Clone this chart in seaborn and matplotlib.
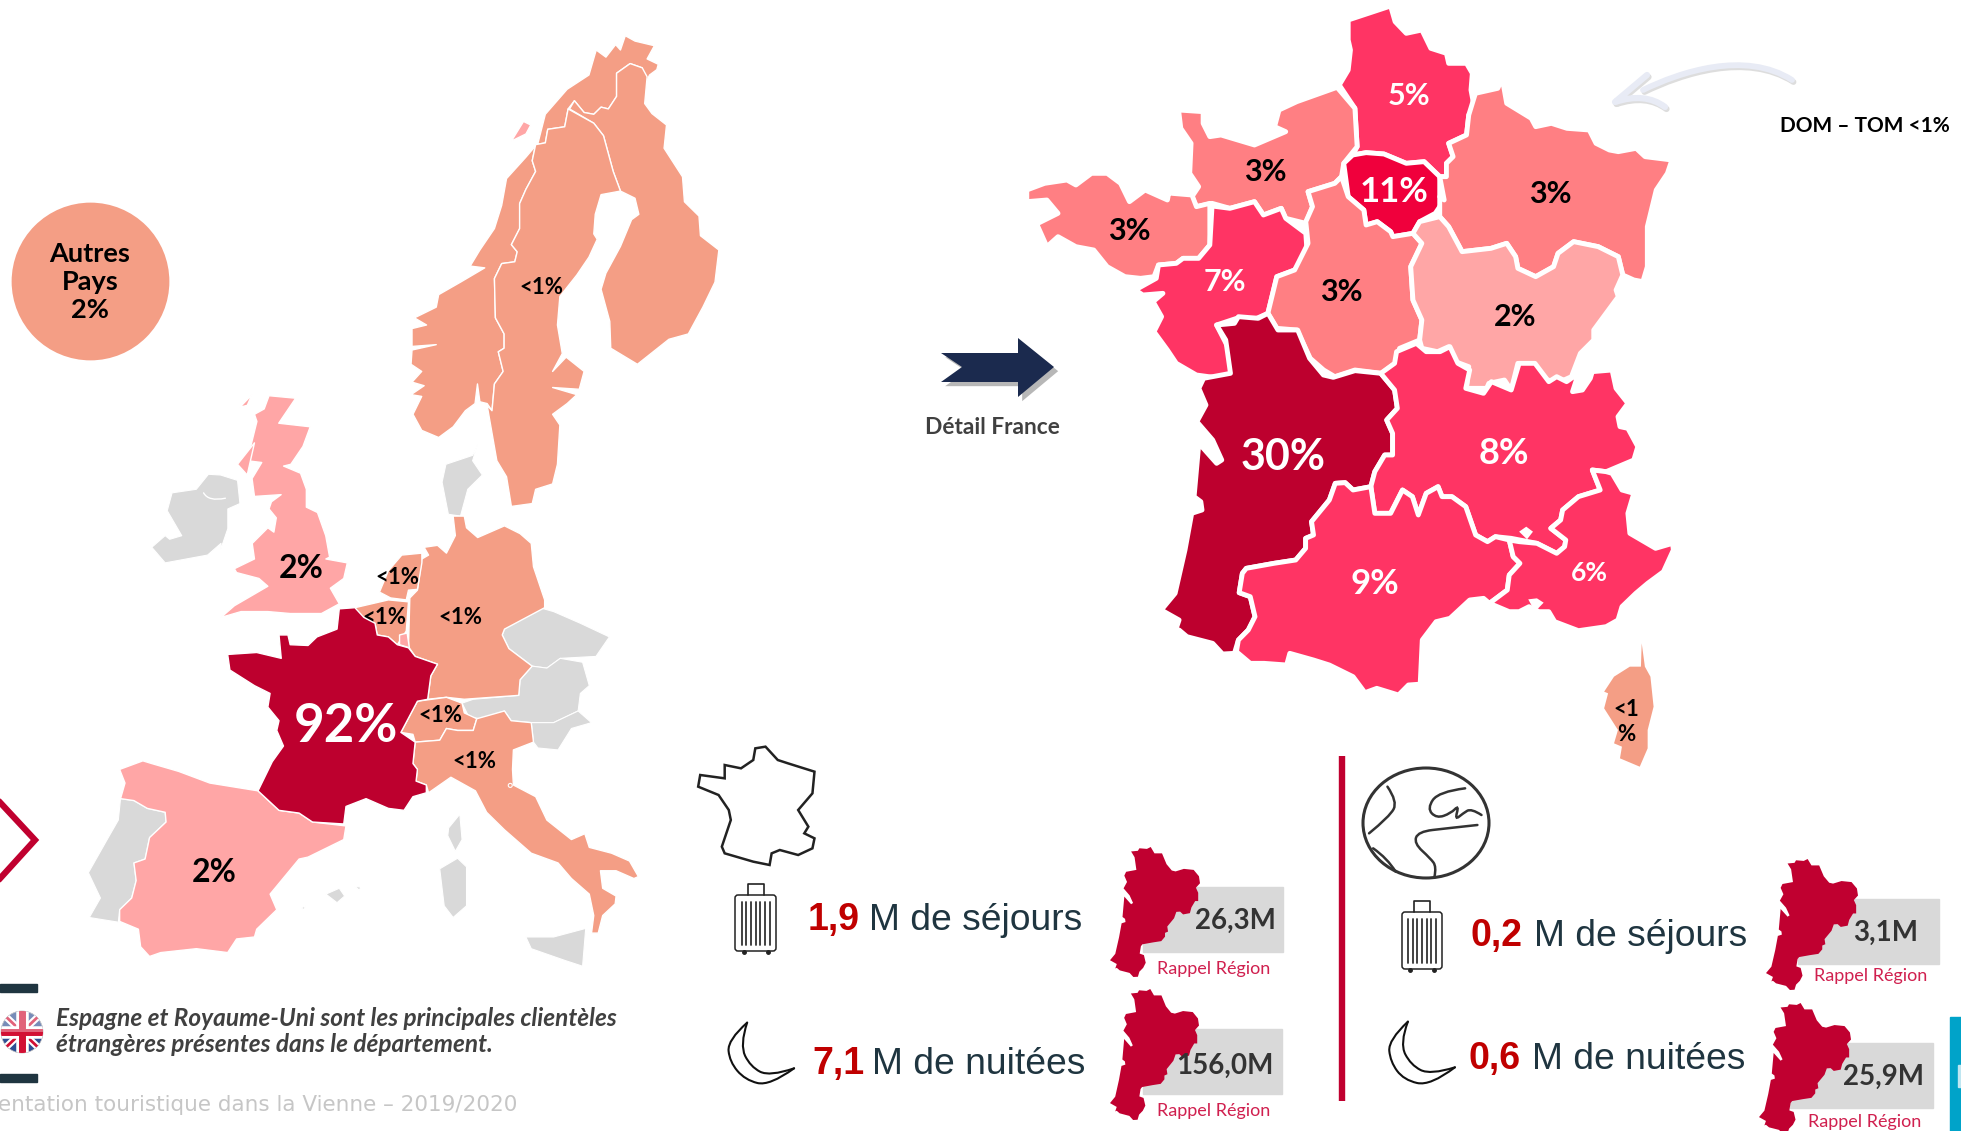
import numpy as np
import pandas as pd
import matplotlib
matplotlib.use("Agg")
import matplotlib.pyplot as plt
import matplotlib.patheffects as pe
from matplotlib.patches import Polygon, Ellipse, Rectangle, FancyBboxPatch, PathPatch, Circle, Wedge
from matplotlib.path import Path
import seaborn as sns

sns.set_theme(style="white")
plt.rcParams['font.family'] = ['Lato', 'DejaVu Sans']

# Values
europe_names = ["Scandinavie", "Royaume-Uni", "Pays-Bas", "Belgique", "Allemagne", "France", "Suisse", "Italie", "Espagne"]
europe_shares = ["<1%", "2%", "<1%", "<1%", "<1%", "92%", "<1%", "<1%", "2%"]
other_share = "2%"

france_names = ["Hauts-de-France", "Normandie", "Ile-de-France", "Grand Est", "Bretagne", "Pays de la Loire", "Centre",
                "Bourgogne", "Nouvelle-Aquitaine", "Auvergne", "Occitanie", "PACA", "Corse"]
france_shares = ["5%", "3%", "11%", "3%", "3%", "7%", "3%", "2%", "30%", "8%", "9%", "6%", "<1\n%"]

stat_numbers = ["1,9", "7,1", "0,2", "0,6"]
stat_units = ["M de séjours", "M de nuitées", "M de séjours", "M de nuitées"]
region_recall = ["26,3M", "156,0M", "3,1M", "25,9M"]

RED = "#BD002E"
HOT = "#FF3464"
SALMON = "#FF7F83"
PINK = "#FFA6A6"
ORANGE = "#F49E85"
GREY = "#D9D9D9"
ARROW = "#E8EBF5"


# outlines were traced on crops of the map, so each one comes with its crop
def crop(pts, x0, y0, sx, sy):
    return [(x0 + x / sx, y0 + y / sy) for x, y in pts]

def nord(pts):
    return crop(pts, 0, 0, 2.063, 2.8)

def eur(pts):
    return crop(pts, 0, 520, 2.24, 2.566)

def fr_n(pts):
    return crop(pts, 1000, 0, 2.24, 3)

def fr_s(pts):
    return crop(pts, 1100, 300, 2.529, 3)

def low_l(pts):
    return crop(pts, 690, 730, 2.45, 3)

def low_r(pts):
    return crop(pts, 1320, 730, 2.446, 3)


norway = nord([(1290,100),(1310,115),(1350,128),(1335,165),(1358,180),(1355,195),(1340,210),(1330,240),(1325,190),(1300,178),(1272,205),(1272,270),(1255,305),(1240,300),(1225,320),(1205,315),(1185,282),(1172,305),(1165,355),(1130,362),(1125,400),(1105,405),(1098,450),(1105,480),(1085,530),(1072,570),(1072,640),(1055,685),(1067,705),(1062,733),(1035,738),(1020,780),(1022,890),(1040,935),(1040,975),(1028,985),(1038,1040),(1020,1075),(1015,1150),(1005,1130),(990,1125),(985,1075),(980,1130),(960,1150),(935,1195),(905,1225),(870,1205),(852,1160),(870,1110),(848,1105),(875,1080),(850,1070),(870,1040),(848,1020),(850,980),(900,965),(850,970),(850,920),(880,910),(855,890),(900,860),(905,825),(950,790),(1000,750),(970,745),(990,700),(1020,640),(1035,575),(1045,500),(1085,440),(1110,400),(1125,320),(1170,250),(1215,210),(1230,140),(1250,160),(1270,125),(1280,140)])
finland = nord([(1300,178),(1325,190),(1335,215),(1330,290),(1345,318),(1375,350),(1370,415),(1408,495),(1412,565),(1442,605),(1445,660),(1483,700),(1475,790),(1450,860),(1420,935),(1380,950),(1315,1020),(1260,975),(1258,900),(1240,810),(1250,765),(1280,690),(1303,615),(1318,600),(1310,555),(1280,535),(1265,480),(1245,380),(1225,345),(1175,305),(1185,282),(1205,315),(1225,320),(1240,300),(1255,305),(1272,270),(1272,205)])
sweden = nord([(1172,305),(1225,345),(1245,380),(1265,480),(1280,535),(1240,545),(1228,600),(1225,655),(1232,670),(1215,720),(1190,770),(1155,830),(1150,910),(1160,990),(1140,1040),(1168,1000),(1205,1040),(1195,1090),(1140,1085),(1190,1105),(1170,1130),(1140,1160),(1155,1190),(1150,1300),(1140,1355),(1105,1370),(1098,1410),(1055,1418),(1045,1335),(1025,1290),(1005,1135),(1015,1150),(1020,1075),(1038,1040),(1028,985),(1040,975),(1040,935),(1022,890),(1020,780),(1035,738),(1062,733),(1067,705),(1055,685),(1072,640),(1072,570),(1085,530),(1105,480),(1098,450),(1105,405),(1125,400),(1130,362),(1165,355)])
lofoten = nord([(1055,395),(1080,340),(1095,350),(1085,375)])
denmark = nord([(985,1245),(975,1275),(920,1300),(912,1350),(925,1440),(950,1445),(965,1370),(995,1330),(975,1290)])
ireland = nord([(430,1328),(455,1330),(490,1345),(495,1410),(470,1425),(470,1480),(455,1540)]) + eur([(495,60),(465,90),(370,110),(340,70),(370,40)]) + nord([(350,1510),(375,1500),(345,1430),(355,1380),(405,1370)])
uk = nord([(555,1108),(610,1115),(575,1185),(640,1195),(625,1250),(600,1300),(585,1305),(620,1325),(632,1370),(632,1420),(655,1435),(672,1500),(680,1560)]) + eur([(730,100),(778,110),(770,150),(740,175),(760,215),(720,240),(650,240),(600,235),(540,235),(495,250),(525,220),(600,170),(580,150),(530,135),(525,125),(570,100),(565,60),(600,20)]) + nord([(565,1490),(570,1450),(555,1425),(560,1405),(580,1385),(525,1390),(520,1340),(540,1295),(510,1290),(530,1180),(525,1160),(545,1145)])
hebrides = nord([(495,1140),(520,1105),(510,1135)])
hebrides2 = nord([(490,1300),(525,1240),(510,1330)])

germany = eur([(1015,-10),(1040,-10),(1045,20),(1070,45),(1130,15),(1165,35),(1190,60),(1195,120),(1220,205),(1220,225),(1130,280),(1125,295),(1140,330),(1192,375),(1165,410),(1162,450),(1040,460),(1000,455),(958,460),(965,400),(980,370),(930,350),(915,325),(918,200),(935,180),(945,100),(960,90),(950,70),(980,65),(1000,85),(1020,40)])
netherlands = eur([(900,90),(945,85),(945,110),(935,178),(915,180),(910,205),(875,200),(850,185),(870,130)])
belgium = eur([(795,225),(870,205),(915,210),(910,285),(890,320),(870,300),(845,295),(840,265),(815,250),(797,240)])
luxembourg = eur([(895,295),(912,290),(917,328),(895,320)])
france = eur([(760,228),(795,225),(815,250),(840,265),(845,295),(870,300),(890,320),(915,328),(930,350),(980,370),(965,400),(958,460),(935,465),(898,545),(930,570),(925,625),(935,640),(932,670),(955,680),(955,700),(925,710),(905,745),(870,740),(820,715),(775,735),(770,780),(700,775),(670,752),(625,745),(578,695),(610,620),(635,580),(620,540),(625,515),(600,480),(605,445),(570,425),(515,385),(510,345),(575,340),(630,355),(625,295),(645,295),(650,320),(690,322),(710,300),(755,280)])
switzerland = eur([(935,465),(1000,455),(1035,470),(1040,495),(1068,510),(1060,540),(1025,540),(1000,535),(985,565),(930,570),(925,550),(898,545)])
italy = eur([(930,570),(985,565),(1000,535),(1025,540),(1060,540),(1068,510),(1130,490),(1145,515),(1190,520),(1195,570),(1150,590),(1148,640),(1150,680),(1200,710),(1225,770),(1280,820),(1310,805),(1320,840),(1370,855),(1410,875),(1430,915),(1420,920),(1380,900),(1345,900),(1350,945),(1380,965),(1378,985),(1350,1015),(1340,1060),(1325,1060),(1330,1015),(1320,960),(1280,920),(1250,880),(1190,855),(1130,795),(1090,750),(1065,695),(1010,660),(960,700),(955,680),(932,670),(935,640),(925,625)])
czech = eur([(1200,222),(1240,235),(1300,265),(1365,300),(1335,350),(1255,355),(1225,380),(1192,375),(1140,330),(1125,295),(1130,280)])
austria = eur([(1225,380),(1255,355),(1305,365),(1320,425),(1300,445),(1295,490),(1240,520),(1190,520),(1145,515),(1130,490),(1075,510),(1050,505),(1035,470),(1060,460),(1162,450),(1165,410),(1192,375)])
slovenia = eur([(1190,520),(1240,520),(1295,490),(1325,520),(1280,535),(1250,590),(1205,585),(1195,570)])
portugal = eur([(270,715),(300,720),(330,740),(370,750),(372,775),(335,815),(325,870),(300,880),(305,925),(295,970),(268,1000),(265,1032),(200,1020),(225,970),(198,905),(240,820),(265,770)])
spain = eur([(320,618),(340,625),(400,645),(470,675),(578,695),(625,745),(670,752),(700,775),(775,785),(770,820),(690,865),(670,870),(605,960),(620,1000),(575,1050),(570,1070),(530,1075),(510,1110),(440,1100),(360,1110),(335,1120),(315,1095),(310,1050),(268,1030),(268,1000),(295,970),(305,925),(300,880),(325,870),(335,815),(372,775),(370,750),(330,740),(300,720),(270,715),(280,675),(268,640)])
corse_grey = eur([(1030,755),(1035,820),(1020,850),(1003,810),(1005,790)])
sardinia = eur([(1025,868),(1045,890),(1045,990),(1015,1020),(995,990),(985,895)])
sicily = eur([(1178,1070),(1240,1070),(1312,1048),(1305,1145),(1265,1130),(1190,1100)])
majorca = eur([(730,960),(760,945),(772,965),(755,982)])
minorca = eur([(795,940),(808,942),(805,950)])
ibiza = eur([(675,995),(685,990),(680,1000)])

hauts = fr_n([(780,60),(875,18),(885,65),(910,100),(945,90),(965,145),(1000,160),(1005,190),(1045,190),(1058,220),(1055,270),(1062,320),(1050,345),(1045,405),(1005,430),(1015,470),(1000,490),(1000,530),(985,530),(950,485),(910,490),(860,462),(820,458),(790,465),(800,440),(795,325),(760,255),(780,210),(785,150),(780,120)])
idf = fr_n([(790,465),(820,458),(860,462),(910,490),(950,485),(985,530),(985,590),(995,600),(975,640),(940,665),(925,700),(880,710),(875,695),(845,665),(820,675),(815,630),(780,590),(770,490)])
grand_est = fr_n([(1125,235),(1135,310),(1190,355),(1200,380),(1235,370),(1270,385),(1320,390),(1335,430),(1365,450),(1385,455),(1425,445),(1445,470),(1505,480),(1495,520),(1470,570),(1450,680),(1450,800),(1440,845),(1420,840),(1395,825),(1385,770),(1340,740),(1285,725),(1250,760),(1240,800),(1200,830),(1160,805),(1155,770),(1135,730),(1100,745),(1035,755),(1005,680),(985,650),(985,590),(995,600),(985,530),(1000,530),(1000,490),(1015,470),(1005,430),(1045,405),(1050,345),(1065,280),(1115,265)])
bourgogne = fr_n([(985,650),(1005,680),(1035,755),(1100,745),(1135,730),(1155,770),(1160,805),(1200,830),(1240,800),(1250,760),(1285,725),(1340,740),(1385,770),(1395,825),(1380,870),(1385,890),(1330,990),(1330,1020),(1300,1060),(1280,1130),(1255,1145),(1225,1140),(1195,1095),(1160,1090),(1145,1170),(1130,1140),(1095,1150),(1090,1165),(1045,1165),(1050,1100),(1020,1085),(1005,1040),(980,1055),(945,1045),(940,1020),(945,960),(925,900),(920,800),(945,730),(925,700),(940,665)])
centre = fr_n([(765,530),(780,590),(815,630),(820,675),(845,665),(875,695),(880,710),(925,700),(945,730),(920,800),(925,900),(945,960),(940,1020),(895,1045),(885,1090),(855,1120),(795,1110),(750,1130),(725,1110),(695,1075),(665,990),(620,985),(600,940),(620,830),(660,810),(690,730),(685,665),(700,620),(690,575),(750,550)])
normandie = fr_n([(755,262),(795,325),(800,440),(770,490),(765,530),(750,550),(690,575),(700,620),(685,670),(640,655),(630,625),(590,645),(570,605),(515,625),(475,610),(440,620),(430,590),(445,560),(425,520),(428,430),(405,385),(400,330),(455,335),(455,370),(470,410),(495,405),(570,435),(640,395),(615,380),(625,330),(665,305)])
bretagne = fr_n([(60,570),(100,550),(150,540),(170,555),(205,520),(240,520),(270,550),(290,605),(325,570),(375,600),(380,565),(385,580),(430,585),(440,620),(470,610),(470,735),(445,775),(410,775),(395,790),(355,795),(345,830),(315,835),(280,830),(240,800),(210,750),(170,740),(130,710),(105,740),(85,680),(70,680),(130,640),(105,600),(60,605)])
loire = fr_n([(475,618),(515,625),(570,605),(590,645),(630,625),(640,655),(685,700),(688,760),(660,810),(620,830),(600,940),(575,955),(530,955),(485,975),(510,1040),(520,1120),(495,1135),(440,1125),(395,1090),(375,1050),(345,995),(362,950),(343,905),(365,880),(320,885),(303,870),(350,835),(355,795),(395,790),(410,775),(445,775),(470,735)])
aquitaine = fr_s([(295,75),(340,70),(350,50),(400,55),(425,40),(450,90),(500,90),(530,175),(565,225),(590,232),(645,212),(710,220),(745,270),(752,325),(725,360),(740,400),(740,465),(720,465),(695,515),(685,560),(640,570),(620,548),(595,550),(580,600),(535,665),(540,705),(520,715),(520,745),(495,780),(440,790),(370,805),(360,820),(352,878),(380,890),(392,950),(375,990),(350,1020),(340,1060),(310,1062),(285,1030),(220,1010),(200,990),(190,995),(200,960),(155,930),(190,880),(215,750),(232,640),(258,630),(255,605),(238,590),(250,430),(295,490),(308,480),(285,420),(245,365),(268,315),(250,265),(262,235),(330,220),(318,120)])
occitanie = fr_s([(370,805),(440,790),(495,780),(520,745),(520,715),(540,705),(535,665),(580,600),(595,550),(620,548),(640,570),(685,560),(695,640),(735,640),(765,570),(790,590),(805,645),(825,580),(855,560),(865,590),(890,590),(925,620),(950,705),(980,725),(1000,710),(1035,720),(1045,770),(1062,790),(1035,825),(1030,870),(985,910),(970,895),(935,900),(885,955),(850,965),(815,1020),(810,1145),(815,1152),(780,1155),(755,1185),(700,1165),(670,1178),(640,1130),(580,1095),(540,1080),(480,1060),(472,1095),(415,1090),(380,1090),(345,1055),(350,1020),(375,990),(392,950),(380,890),(352,878),(360,820)])
auvergne = fr_s([(800,130),(825,155),(860,155),(885,140),(905,190),(935,210),(925,265),(970,280),(990,245),(1040,270),(1060,190),(1100,190),(1135,245),(1155,230),(1180,245),(1210,220),(1195,275),(1220,270),(1240,235),(1245,215),(1295,210),(1305,265),(1335,310),(1310,350),(1315,380),(1335,385),(1360,440),(1350,480),(1280,515),(1245,510),(1265,570),(1210,590),(1170,630),(1165,660),(1140,685),(1178,720),(1175,740),(1155,760),(1105,730),(1040,715),(1000,710),(980,725),(950,705),(925,620),(890,590),(865,590),(855,560),(825,580),(805,645),(790,590),(765,570),(735,640),(695,640),(685,560),(695,515),(720,465),(740,465),(740,400),(725,360),(752,325),(745,270),(710,220),(745,190),(750,155)])
paca = fr_s([(1245,510),(1280,515),(1295,520),(1320,570),(1350,580),(1335,640),(1340,700),(1405,745),(1448,730),(1450,750),(1425,815),(1385,850),(1355,880),(1320,920),(1310,960),(1280,980),(1210,992),(1150,965),(1135,935),(1110,935),(1085,920),(1060,935),(1035,935),(985,910),(1030,870),(1035,825),(1062,790),(1045,770),(1035,720),(1060,725),(1105,730),(1155,760),(1175,740),(1178,720),(1140,685),(1165,660),(1170,630),(1210,590),(1265,570)])
corse = fr_s([(1370,1030),(1378,1100),(1392,1130),(1400,1220),(1385,1290),(1385,1345),(1365,1400),(1315,1375),(1320,1340),(1300,1330),(1310,1290),(1275,1225),(1285,1180),(1275,1175),(1300,1130),(1340,1100),(1368,1100)])

icon_france = low_l([(160,55),(185,50),(215,90),(240,100),(305,125),(300,190),(265,240),(290,290),(280,310),(305,325),(300,355),(265,375),(220,360),(200,370),(195,405),(155,395),(85,370),(78,350),(100,270),(95,240),(70,195),(20,170),(25,135),(85,145),(85,105),(125,115),(155,90)])

fig = plt.figure(figsize=(19.61, 11.31), dpi=100)
ax = fig.add_axes([0, 0, 1, 1])
ax.set_xlim(0, 1961)
ax.set_ylim(1131, 0)
ax.axis('off')


def fill(pts, color, lw=1.0, z=2):
    ax.add_patch(Polygon(pts, closed=True, facecolor=color, edgecolor='white', linewidth=lw, joinstyle='round', zorder=z))


def smooth(pts):
    # quadratic curve through the midpoints, the icons are hand drawn
    verts = [pts[0]]
    codes = [Path.MOVETO]
    for a, b in zip(pts[1:-1], pts[2:]):
        verts += [a, ((a[0] + b[0]) / 2, (a[1] + b[1]) / 2)]
        codes += [Path.CURVE3, Path.CURVE3]
    verts[-1] = pts[-1]
    return Path(verts, codes)


def stroke(pts, color='#222222', lw=1.5, z=4):
    ax.add_patch(PathPatch(smooth(pts), facecolor='none', edgecolor=color, linewidth=lw, capstyle='round', zorder=z))


# Europe map
for shape in [denmark, ireland, czech, austria, slovenia, portugal, corse_grey, sardinia, sicily, majorca, minorca, ibiza]:
    fill(shape, GREY, lw=0.8)
for shape in [norway, finland, sweden, germany, netherlands, belgium, switzerland, italy]:
    fill(shape, ORANGE, lw=1.0)
for shape in [uk, spain, luxembourg, lofoten, hebrides, hebrides2]:
    fill(shape, PINK, lw=1.0)
fill(france, RED, lw=1.0)
stroke(nord([(420,1380),(430,1405),(465,1395)]), color='white', lw=1, z=3)
ax.add_patch(Circle(eur([(1143, 681)])[0], 2, facecolor='none', edgecolor='white', lw=0.8, zorder=3))

eu_xy = [(541, 288), (301, 568), (397, 578), (384, 618), (460, 617), (346, 726), (440, 716), (474, 761), (214, 873)]
for name, share, (x, y) in zip(europe_names, europe_shares, eu_xy):
    if name == "France":
        ax.text(x, y, share, color='white', fontsize=38, fontweight='bold', ha='center', va='center', zorder=6)
    elif share == "2%":
        ax.text(x, y, share, color='black', fontsize=23, fontweight='bold', ha='center', va='center', zorder=6)
    else:
        ax.text(x, y, share, color='black', fontsize=16, fontweight='bold', ha='center', va='center', zorder=6)

# Autres pays bubble
bubble = pd.DataFrame({'x': [90], 'y': [281], 'label': ["Autres\nPays\n" + other_share]})
sns.scatterplot(data=bubble, x='x', y='y', s=12900, color=ORANGE, linewidth=0, legend=False, ax=ax, zorder=2)
ax.set_xlim(0, 1961)
ax.set_ylim(1131, 0)
ax.axis('off')
ax.text(90, 282, bubble['label'][0], color='black', fontsize=19.5, fontweight='bold', ha='center', va='center',
        linespacing=1.22, zorder=5)

# Left chevron and note
ax.plot([-5, 35, -5], [797, 840, 884], color='#C0002F', lw=4.5, solid_joinstyle='miter', zorder=3)
ax.add_patch(Rectangle((0, 984), 37, 8, color='#1F3540', zorder=3))
ax.add_patch(Rectangle((0, 1074), 37, 8, color='#1F3540', zorder=3))

flag = Circle((22, 1032), 21, transform=ax.transData)
ax.add_patch(Circle((22, 1032), 21, facecolor='#2F4F93', edgecolor='#BBBBBB', lw=0.5, zorder=3))
for xs, ys, c, w in [([0, 44], [1011, 1053], 'white', 5), ([0, 44], [1053, 1011], 'white', 5),
                     ([0, 44], [1011, 1053], '#D21034', 2), ([0, 44], [1053, 1011], '#D21034', 2),
                     ([22, 22], [1010, 1054], 'white', 9), ([0, 44], [1032, 1032], 'white', 9),
                     ([22, 22], [1010, 1054], '#D21034', 5), ([0, 44], [1032, 1032], '#D21034', 5)]:
    line, = ax.plot(xs, ys, color=c, lw=w, zorder=4, solid_capstyle='butt')
    line.set_clip_path(flag)
ax.add_patch(Wedge((22, 1032), 21, 180, 360, facecolor='white', edgecolor='none', alpha=0.35, zorder=4))

ax.text(56, 1019, "Espagne et Royaume-Uni sont les principales clientèles", color='#404040', fontsize=17.6,
        fontweight='bold', style='italic', va='center', zorder=5)
ax.text(56, 1045, "étrangères présentes dans le département.", color='#404040', fontsize=17.6,
        fontweight='bold', style='italic', va='center', zorder=5)
ax.text(-2, 1105, "entation touristique dans la Vienne – 2019/2020", color='#C6C6C6', fontsize=15.5,
        family='DejaVu Sans', va='center', zorder=5)

# Detail arrow
ax.add_patch(Polygon([(941, 353), (1018, 353), (1018, 338), (1054, 367), (1018, 397), (1018, 382), (941, 382), (962, 367)],
                     facecolor='#1B2A4E', edgecolor='none', zorder=3,
                     path_effects=[pe.SimplePatchShadow(offset=(3, -3), shadow_rgbFace='#888888', alpha=0.6), pe.Normal()]))
ax.text(992, 428, "Détail France", color='#404040', fontsize=16.4, fontweight='bold', ha='center', va='center', zorder=5)

# France regions
fr_shapes = [hauts, normandie, idf, grand_est, bretagne, loire, centre, bourgogne, aquitaine, auvergne, occitanie, paca, corse]
fr_colors = [HOT, SALMON, "#F0003C", SALMON, SALMON, HOT, SALMON, PINK, RED, HOT, HOT, HOT, ORANGE]
fr_xy = [(1409, 96), (1265, 172), (1394, 192), (1550, 194), (1129, 231), (1225, 282), (1341, 292), (1515, 317), (1283, 457),
         (1504, 453), (1375, 584), (1589, 573), (1626, 722)]
fr_white = ["5%", "11%", "7%", "30%", "8%", "9%", "6%"]
fr_size = {"30%": 31, "11%": 25, "9%": 25, "8%": 26, "6%": 19, "<1\n%": 16}
for shape, color in zip(fr_shapes, fr_colors):
    fill(shape, color, lw=0 if shape is corse else 3.5)
for blob in [[(1060, 695), (1078, 680), (1095, 695), (1080, 718)], [(1083, 898), (1105, 895), (1122, 908), (1100, 935)]]:
    fill(fr_s(blob), 'white', lw=0, z=3)
for share, (x, y) in zip(france_shares, fr_xy):
    ax.text(x, y, share, color='white' if share in fr_white else 'black', fontsize=fr_size.get(share, 22),
            fontweight='bold', ha='center', va='center', linespacing=1.25, zorder=6)

# Curved DOM-TOM arrow, drawn twice for the soft shadow
for dx, dy, col, z in [(1.5, 2, '#DDDDDD', 2.5), (0, 0, ARROW, 3)]:
    ax.add_patch(PathPatch(Path([(1643 + dx, 90 + dy), (1680 + dx, 72 + dy), (1745 + dx, 50 + dy), (1792 + dx, 80 + dy)],
                                [Path.MOVETO, Path.CURVE4, Path.CURVE4, Path.CURVE4]),
                           facecolor='none', edgecolor=col, lw=4.2, capstyle='round', zorder=z))
    ax.add_patch(PathPatch(Path([(1647 + dx, 75 + dy), (1615 + dx, 102 + dy), (1645 + dx, 92 + dy), (1665 + dx, 107 + dy)],
                                [Path.MOVETO, Path.LINETO, Path.CURVE3, Path.CURVE3]),
                           facecolor='none', edgecolor=col, lw=4.5, capstyle='round', joinstyle='round', zorder=z))
ax.text(1865, 126, "DOM – TOM <1%", color='black', fontsize=15, fontweight='bold', ha='center', va='center', zorder=5)

# France and globe icons
ax.add_patch(Polygon(icon_france, closed=True, facecolor='none', edgecolor='#222222', linewidth=1.8, zorder=4))
ax.plot([1342, 1342], [756, 1101], color='#C0002F', lw=4.6, solid_capstyle='butt', zorder=3)
ax.add_patch(Ellipse((1426, 823), 126, 110, facecolor='none', edgecolor='#333333', linewidth=2.2, zorder=4))
for curve in [[(165, 170), (190, 215), (170, 260), (120, 310)],
              [(355, 175), (290, 185), (262, 235), (285, 265), (320, 250), (340, 225), (330, 270), (350, 250), (370, 235), (395, 255)],
              [(385, 285), (310, 295), (240, 305), (230, 340), (270, 385), (285, 410), (280, 440)],
              [(130, 355), (165, 385), (185, 425)]]:
    stroke(low_r(curve), color='#333333', lw=1.8)


def suitcase(x0, x1, top, bottom, handle):
    ax.add_patch(FancyBboxPatch((x0 + 3, top + 3), x1 - x0 - 6, bottom - top - 6, boxstyle="round,pad=3", facecolor='white',
                                edgecolor='#222222', linewidth=1.1, zorder=4))
    cx = (x0 + x1) / 2
    ax.plot([cx - 8, cx - 8, cx + 8, cx + 8], [top, handle, handle, top], color='#222222', lw=1.2, zorder=4)
    for dx in np.linspace(-14, 14, 7):
        ax.plot([cx + dx, cx + dx], [top + 7, bottom - 6], color='#333333', lw=1.3, zorder=5)
    for dx in [-12, 12]:
        ax.plot([cx + dx], [bottom + 1], 'o', color='#222222', ms=2.5, zorder=5)


suitcase(735, 776, 895, 951, 884)
suitcase(1402, 1442, 912, 969, 901)

# Moons: outer edge then inner edge
for outer, inner in [
    (low_l([(140, 878), (92, 930), (97, 995), (135, 1050), (195, 1068), (255, 1015)]), low_l([(255, 1015), (195, 1040), (148, 1010), (122, 945), (140, 878)])),
    (low_r([(215, 875), (167, 930), (172, 995), (205, 1050), (270, 1068), (330, 1012)]), low_r([(330, 1012), (270, 1035), (222, 1005), (195, 940), (215, 875)]))]:
    stroke(outer, color='#111111', lw=1.5)
    stroke(inner, color='#111111', lw=1.5)

# Stats and Rappel Région
num_xy = [(808, 930), (812, 1074), (1471, 946), (1469, 1069)]
unit_x = [869, 872, 1534, 1532]
for num, unit, (x, y), ux in zip(stat_numbers, stat_units, num_xy, unit_x):
    ax.text(x, y, num, color='#C00000', fontsize=27, fontweight='bold', family='Liberation Sans', va='baseline', zorder=5)
    ax.text(ux, y, unit, color='#1F3540', fontsize=26.8, family='Liberation Sans', va='baseline', zorder=5)

na = np.array(aquitaine)
region_box = [(1110, 1200, 847, 977), (1110, 1199, 989, 1120), (1766, 1858, 859, 990), (1759, 1851, 1003, 1134)]
grey_box = [(1143, 1283, 887, 952), (1143, 1282, 1029, 1094), (1798, 1939, 899, 964), (1790, 1933, 1043, 1108)]
recall_xy = [(1235, 921), (1225, 1066), (1886, 933), (1884, 1077)]
note_xy = [(1214, 969), (1214, 1111), (1871, 976), (1865, 1122)]
for val, rb, gb, vxy, nxy in zip(region_recall, region_box, grey_box, recall_xy, note_xy):
    ax.add_patch(Rectangle((gb[0], gb[2]), gb[1] - gb[0], gb[3] - gb[2], color=GREY, zorder=2))
    mini = np.column_stack([rb[0] + (na[:, 0] - na[:, 0].min()) / np.ptp(na[:, 0]) * (rb[1] - rb[0]),
                            rb[2] + (na[:, 1] - na[:, 1].min()) / np.ptp(na[:, 1]) * (rb[3] - rb[2])])
    ax.add_patch(Polygon(mini, closed=True, facecolor='#C00030', edgecolor='none', zorder=3))
    ax.text(vxy[0], vxy[1], val, color='#333333', fontsize=20, fontweight='bold', ha='center', va='center', zorder=5)
    ax.text(nxy[0], nxy[1], "Rappel Région", color='#D0204F', fontsize=13, ha='center', va='center', zorder=5)

# Edge of the next panel
ax.add_patch(Rectangle((1950, 1017), 11, 114, color='#00A3C9', zorder=3))
ax.add_patch(Rectangle((1958, 1065), 3, 22, color='#BFE6F1', zorder=4))

fig.savefig('out.png', dpi=100, facecolor='white')
